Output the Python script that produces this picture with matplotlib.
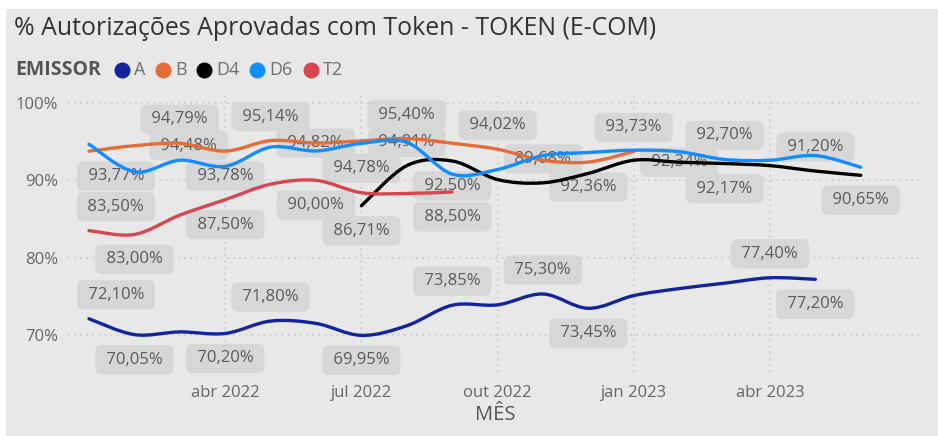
import numpy as np
import matplotlib
matplotlib.use("Agg")
import matplotlib.pyplot as plt
from matplotlib.path import Path
from matplotlib.patches import PathPatch, Rectangle

# months from jan 2022 to jun 2023 (index 0..17)
months = ["jan 2022", "fev 2022", "mar 2022", "abr 2022", "mai 2022", "jun 2022",
          "jul 2022", "ago 2022", "set 2022", "out 2022", "nov 2022", "dez 2022",
          "jan 2023", "fev 2023", "mar 2023", "abr 2023", "mai 2023", "jun 2023"]
tick_idx = [3, 6, 9, 12, 15]

nan = np.nan
serie_a = [72.10, 70.05, 70.40, 70.20, 71.80, 71.50, 69.95, 71.20, 73.85, 73.90,
           75.30, 73.45, 75.10, 76.00, 76.70, 77.40, 77.20, nan]
serie_b = [93.77, 94.48, 94.79, 93.78, 95.14, 94.82, 95.10, 95.40, 94.80, 94.02,
           92.60, 92.36, 93.73, nan, nan, nan, nan, nan]
serie_d4 = [nan, nan, nan, nan, nan, nan, 86.71, 91.90, 92.50, 90.10,
            89.68, 90.90, 92.60, 92.34, 92.17, 91.90, 91.20, 90.65]
serie_d6 = [94.67, 91.10, 92.60, 91.80, 94.30, 93.80, 94.78, 94.91, 90.80, 91.40,
            93.20, 93.60, 93.90, 93.70, 92.70, 92.60, 93.20, 91.70]
serie_t2 = [83.50, 83.00, 85.50, 87.50, 89.50, 90.00, 88.40, 88.30, 88.50, nan,
            nan, nan, nan, nan, nan, nan, nan, nan]

# which points get a data label: (month index, position, shift in months)
labels_a = [(0, "up", 0), (1, "down", 0), (3, "down", 0), (4, "up", 0), (6, "down", 0),
            (8, "up", 0), (10, "up", 0), (11, "down", 0), (15, "up", 0), (16, "down", 0)]
labels_b = [(0, "down", 0), (1, "mid", 1.2), (2, "up", 0), (3, "down", 0), (4, "up", 0),
            (5, "mid", 0), (7, "up", 0), (9, "up", 0), (11, "down", 0), (12, "up", 0)]
labels_d4 = [(6, "down", 0), (8, "down", 0), (10, "up", 0), (13, "mid", 0),
             (14, "down", 0), (16, "up", 0), (17, "down", 0)]
labels_d6 = [(6, "down", 0), (7, "mid", 0), (14, "up", 0)]
labels_t2 = [(0, "up", 0), (1, "down", 0), (3, "down", 0), (5, "down", 0), (8, "down", 0)]

series = [
    ("A", serie_a, "#12239E", labels_a),
    ("B", serie_b, "#E66C37", labels_b),
    ("D4", serie_d4, "#000000", labels_d4),
    ("D6", serie_d6, "#118DFF", labels_d6),
    ("T2", serie_t2, "#D64550", labels_t2),
]

W, H = 938, 436
BG = "#e8e8e8"
plt.rcParams["font.family"] = ["Open Sans", "DejaVu Sans"]

fig = plt.figure(figsize=(W / 100, H / 100), dpi=100, facecolor="white")
fig.patches.append(Rectangle((6 / W, 0), 1, 1 - 9 / H, transform=fig.transFigure,
                             facecolor=BG, edgecolor="none", zorder=-10))

# axes box in pixels
left, right, top, bottom = 68, 922, 95, 372
ax = fig.add_axes([left / W, 1 - bottom / H, (right - left) / W, (bottom - top) / H])
ax.set_facecolor("none")
px_month = 45.4
x0_px = 89
ax.set_xlim(-(x0_px - left) / px_month, (right - x0_px) / px_month)
px_pct = 232 / 30
ax.set_ylim(70 - (bottom - 335) / px_pct, 100 + (103 - top) / px_pct)

for s in ax.spines.values():
    s.set_visible(False)
ax.set_yticks([70, 80, 90, 100])
ax.set_yticklabels(["70%", "80%", "90%", "100%"])
ax.set_xticks(tick_idx)
ax.set_xticklabels([months[i] for i in tick_idx])
ax.tick_params(length=0, colors="#666666", labelsize=12)
ax.tick_params(axis="x", pad=9)
ax.tick_params(axis="y", pad=7)
ax.grid(True, linestyle=(0, (1, 3)), color="#c4c4c4", linewidth=1.1)
ax.set_axisbelow(True)
ax.set_xlabel("MÊS", fontsize=14.5, color="#555555", labelpad=3)


def smooth_path(xs, ys):
    # catmull-rom turned into cubic bezier segments
    verts = [(xs[0], ys[0])]
    codes = [Path.MOVETO]
    n = len(xs)
    for i in range(n - 1):
        p0 = np.array([xs[max(i - 1, 0)], ys[max(i - 1, 0)]])
        p1 = np.array([xs[i], ys[i]])
        p2 = np.array([xs[i + 1], ys[i + 1]])
        p3 = np.array([xs[min(i + 2, n - 1)], ys[min(i + 2, n - 1)]])
        c1 = p1 + (p2 - p0) / 6
        c2 = p2 - (p3 - p1) / 6
        verts += [tuple(c1), tuple(c2), tuple(p2)]
        codes += [Path.CURVE4] * 3
    return Path(verts, codes)


box_half = 46 / px_month
xmin_center = ax.get_xlim()[0] + box_half + 2 / px_month

for name, vals, color, labs in series:
    v = np.array(vals, dtype=float)
    idx = np.where(~np.isnan(v))[0]
    ax.add_patch(PathPatch(smooth_path(idx.astype(float), v[idx]), facecolor="none",
                           edgecolor=color, lw=2.4, capstyle="round", joinstyle="round",
                           zorder=3))

label_list = []
for name, vals, color, labs in series:
    for i, pos, shift in labs:
        label_list.append((i, vals[i], pos, shift))

for i, val, pos, shift in label_list:
    dy = {"up": 24, "down": -25, "mid": 0}[pos]
    xc = max(i + shift, xmin_center)
    txt = f"{val:.2f}".replace(".", ",") + "%"
    ax.annotate(" " + txt + " ", (xc, val), xytext=(0, dy), textcoords="offset pixels",
                ha="center", va="center", fontsize=12, color="#5a5a5a", zorder=2,
                bbox=dict(boxstyle="round,pad=0.4,rounding_size=0.4", facecolor="#d6d6d6",
                          edgecolor="none", alpha=0.9))

# title and legend
fig.text(14 / W, 1 - 35 / H, "% Autorizações Aprovadas com Token - TOKEN (E-COM)",
         fontsize=17.9, color="#333333", va="baseline", ha="left")
fig.text(15 / W, 1 - 70 / H, "EMISSOR", fontsize=14, fontweight="bold", color="#555555",
         va="center", ha="left")
leg_x = [122, 163, 204, 257, 311]
for (name, vals, color, labs), lx in zip(series, leg_x):
    fig.lines.append(plt.Line2D([lx / W], [1 - 70 / H], marker="o", markersize=10.5,
                                color=color, transform=fig.transFigure))
    fig.text((lx + 12) / W, 1 - 70 / H, name, fontsize=13, color="#707070",
             va="center", ha="left")

fig.savefig("out.png", dpi=100, facecolor="white")
